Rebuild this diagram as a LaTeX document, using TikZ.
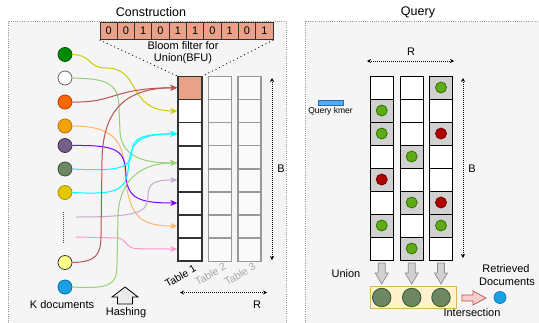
\documentclass[tikz,border=0pt]{standalone}
\usepackage{fontspec}
\setmainfont{Liberation Sans}
\usetikzlibrary{arrows.meta,calc}
\definecolor{panelbg}{HTML}{F5F5F5}
\definecolor{panelbd}{HTML}{9A9A9A}
\definecolor{salmon}{HTML}{EAA189}
\definecolor{cGreen}{HTML}{008A00}
\definecolor{cGreenB}{HTML}{005700}
\definecolor{cOrange}{HTML}{FA6800}
\definecolor{cOrangeB}{HTML}{C73500}
\definecolor{cAmber}{HTML}{F0A30A}
\definecolor{cAmberB}{HTML}{BD7000}
\definecolor{cPurple}{HTML}{76608A}
\definecolor{cPurpleB}{HTML}{432D57}
\definecolor{cOlive}{HTML}{6D8764}
\definecolor{cOliveB}{HTML}{3A5431}
\definecolor{cYellow}{HTML}{E3C800}
\definecolor{cYellowB}{HTML}{B09500}
\definecolor{cLYellow}{HTML}{FFFF88}
\definecolor{cLYellowB}{HTML}{36393D}
\definecolor{cBlue}{HTML}{1BA1E2}
\definecolor{cBlueB}{HTML}{006EAF}
\definecolor{eRed}{HTML}{B85450}
\definecolor{eYellow}{HTML}{CCCC00}
\definecolor{eGreen}{HTML}{97D077}
\definecolor{eOrange}{HTML}{FFB570}
\definecolor{ePurple}{HTML}{7F00FF}
\definecolor{eCyan}{HTML}{00FFFF}
\definecolor{eLav}{HTML}{C3ABD0}
\definecolor{ePink}{HTML}{FF99CC}
\definecolor{dGreen}{HTML}{60A917}
\definecolor{dGreenB}{HTML}{2D7600}
\definecolor{dRed}{HTML}{B20000}
\definecolor{dRedB}{HTML}{6F0000}
\definecolor{ubox}{HTML}{FFF2CC}
\definecolor{uboxB}{HTML}{D6B656}
\definecolor{iFill}{HTML}{F8CECC}
\definecolor{qk}{HTML}{5AA9F0}
\definecolor{qkB}{HTML}{1F6FB5}
\tikzset{
  panel/.style={fill=panelbg,draw=panelbd,line width=0.6pt,dash pattern=on 1pt off 1.2pt},
  bit/.style={draw=black!80,fill=salmon,line width=0.9pt,minimum width=17.3pt,minimum height=17pt,inner sep=0pt,font=\fontsize{11}{12}\selectfont},
  cellA/.style={draw=black!80,fill=white,line width=1.3pt,minimum width=24pt,minimum height=23.05pt,inner sep=0pt},
  cellB/.style={draw=black!40,fill=black!2,line width=1.2pt,minimum width=23pt,minimum height=23.05pt,inner sep=0pt},
  qcell/.style={draw=black,line width=1pt,minimum width=23.3pt,minimum height=23pt,inner sep=0pt},
  qw/.style={qcell,fill=white},
  qg/.style={qcell,fill=black!18},
  doc/.style={circle,line width=0.8pt,minimum size=14pt,inner sep=0pt},
  gdot/.style={circle,line width=0.8pt,minimum size=11pt,inner sep=0pt,fill=dGreen,draw=dGreenB},
  rdot/.style={circle,line width=0.8pt,minimum size=11pt,inner sep=0pt,fill=dRed,draw=dRedB},
  edge/.style={line width=1pt,-{Stealth[length=7pt,width=6pt,inset=2pt]}},
  dim/.style={line width=0.6pt,dash pattern=on 1pt off 1pt,{Stealth[length=4pt,width=4pt]}-{Stealth[length=4pt,width=4pt]}},
  lbl/.style={font=\fontsize{11}{13}\selectfont,inner sep=0pt},
  tlbl/.style={font=\fontsize{10.5}{12}\selectfont,inner sep=0pt,rotate=30},
  ttl/.style={font=\fontsize{12.5}{14}\selectfont,inner sep=0pt},
}
\begin{document}
\begin{tikzpicture}[x=1pt,y=-1pt]
\useasboundingbox (0,0) rectangle (539,322);
\begin{scope}
\clip (0,0) rectangle (539,322);
\draw[panel] (8,21) rectangle (286,340);
\draw[panel] (305,21) rectangle (560,340);
\end{scope}
\node[ttl] (tc) at (151,12) {Construction};
\node[ttl] (tq) at (418,12) {Query};
% bloom filter
\foreach \b [count=\i] in {0,0,1,0,1,1,0,1,0,1}
  \node[bit] (b\i) at ({100+17.3*(\i-0.5)},31) {\b};
\node[lbl] (bf1) at (183,46) {Bloom filter for};
\node[lbl] (bf2) at (183,59) {Union(BFU)};
% tables
\foreach \r in {1,...,8}{
  \node[cellB] (tb\r) at (220.3,{76.7+23.05*(\r-0.5)}) {};
  \node[cellB] (tc\r) at (249.5,{76.7+23.05*(\r-0.5)}) {};
}
\foreach \r in {2,...,8}
  \node[cellA] (ta\r) at (190,{76.7+23.05*(\r-0.5)}) {};
\node[cellA,fill=salmon] (ta1) at (190,{76.7+23.05*0.5}) {};
\draw[line width=0.8pt,dash pattern=on 1pt off 3pt] (b1.south west) -- (ta1.north west);
\draw[line width=0.8pt,dash pattern=on 1pt off 3pt] (b10.south east) -- (ta1.north east);
\coordinate (bt) at (272,78); \coordinate (bb) at (272,260);
\draw[dim] (bt) -- (bb);
\node[lbl] (bl) at (281,169) {B};
\coordinate (rl) at (180,292.5); \coordinate (rr) at (267,292.5);
\draw[dim] (rl) -- (rr);
\node[lbl] (rlab) at (257,304.5) {R};
\node[tlbl] (t1) at (180.5,276) {Table 1};
\node[tlbl,text=black!35] (t2) at (210.5,274) {Table 2};
\node[tlbl,text=black!35] (t3) at (240,274) {Table 3};
% documents
\node[doc,fill=cGreen,draw=cGreenB] (c1) at (65,54.5) {};
\node[doc,fill=white,draw=black!60] (c2) at (65,78) {};
\node[doc,fill=cOrange,draw=cOrangeB] (c3) at (65,102) {};
\node[doc,fill=cAmber,draw=cAmberB] (c4) at (65,126) {};
\node[doc,fill=cPurple,draw=cPurpleB] (c5) at (65,145.5) {};
\node[doc,fill=cOlive,draw=cOliveB] (c6) at (65,169) {};
\node[doc,fill=cYellow,draw=cYellowB] (c7) at (65,192.5) {};
\node[doc,fill=cLYellow,draw=cLYellowB] (c8) at (65,262.5) {};
\node[doc,fill=cBlue,draw=cBlueB] (c9) at (65,287) {};
\coordinate (dtop) at (63,212); \coordinate (dbot) at (63,244);
\draw[line width=0.6pt,dash pattern=on 1pt off 1pt,black!70] (dtop) -- (dbot);
\coordinate (lav) at (76,217);
\coordinate (pnk) at (76,237);
\node[lbl] (kd) at (62,305) {K documents};
\node[lbl] (hs) at (126,313) {Hashing};
\draw[line width=0.8pt,fill=black!8] (125,287) -- (138,297) -- (132.5,297) -- (132.5,304) -- (117.5,304) -- (117.5,297) -- (112,297) -- cycle;
% edges
\draw[edge,eYellow] (c1.east) .. controls (92,55) and (88,68) .. (106,68) .. controls (142,68) and (126,111) .. ($(ta2.west)+(0,-0.3)$);
\draw[edge,eGreen] (c2.east) .. controls (102,79) and (119,80) .. (119,108) -- (120,132) .. controls (122,160) and (150,163) .. ($(ta4.west)+(0,5.5)$);
\draw[edge,eRed] (c3.east) .. controls (115,103) and (112,88) .. ($(ta1.west)+(0,-0.5)$);
\draw[edge,eOrange] (c4.east) .. controls (110,126) and (123,138) .. (125,170) .. controls (128,217) and (140,226) .. ($(ta7.west)+(0,-0.5)$);
\draw[edge,ePurple] (c5.east) .. controls (118,145) and (125,150) .. (126,175) .. controls (127,199) and (140,203) .. ($(ta6.west)+(0,-0.5)$);
\draw[edge,eCyan] (c6.east) .. controls (126,172) and (131,166) .. (132,150) .. controls (133,137) and (145,134) .. ($(ta3.west)+(0,-0.5)$);
\draw[edge,eCyan] (c7.east) .. controls (121,195) and (127,190) .. (129,162) .. controls (131,139) and (145,134) .. ($(ta3.west)+(0,-0.5)$);
\draw[edge,eLav] (lav) .. controls (140,217) and (148,212) .. (148,196) .. controls (148,183) and (155,180) .. ($(ta5.west)+(0,-0.5)$);
\draw[edge,ePink] (pnk) -- (118,238) .. controls (126,238.5) and (126,248.5) .. (137,248.7) -- ($(ta8.west)+(0,-0.5)$);
\draw[edge,eRed] (c8.east) .. controls (96,262) and (101,255) .. (101,235) -- (102,160) .. controls (103,110) and (125,88) .. ($(ta1.west)+(0,-0.5)$);
\draw[edge,eGreen] (c9.east) .. controls (110,289) and (117,285) .. (117,265) -- (118,215) .. controls (120,176) and (145,163) .. ($(ta4.west)+(0,5.5)$);
% query panel
\coordinate (qrl) at (367,61); \coordinate (qrr) at (454,61);
\draw[dim] (qrl) -- (qrr);
\node[lbl] (qR) at (411,52) {R};
\coordinate (qbt) at (463,78); \coordinate (qbb) at (463,258);
\draw[dim] (qbt) -- (qbb);
\node[lbl] (qB) at (472,169) {B};
\node[draw=qkB,fill=qk,line width=0.6pt,minimum width=25pt,minimum height=5pt,inner sep=0pt] (qkr) at (330.5,102.5) {};
\node[font=\fontsize{8.5}{10}\selectfont,inner sep=0pt] (qkl) at (330.5,111) {Query kmer};
\foreach \s [count=\r] in {qw,qg,qg,qw,qg,qw,qg,qw}
  \node[\s] (qa\r) at (381.7,{76+23*(\r-0.5)}) {};
\foreach \s [count=\r] in {qw,qw,qw,qg,qw,qg,qw,qg}
  \node[\s] (qb\r) at (411.7,{76+23*(\r-0.5)}) {};
\foreach \s [count=\r] in {qg,qw,qg,qw,qw,qg,qg,qw}
  \node[\s] (qc\r) at (441,{76+23*(\r-0.5)}) {};
\foreach \n in {qa2,qa3,qa7,qb4,qb6,qb8,qc1,qc7}
  \node[gdot] (d\n) at (\n) {};
\foreach \n in {qa5,qc3,qc6}
  \node[rdot] (d\n) at (\n) {};
\foreach \cx in {381.7,411.7,441}
  \draw[line width=0.7pt,draw=black!45,fill=black!18] (\cx-3.5,263) -- (\cx+3.5,263) -- (\cx+3.5,273) -- (\cx+6.5,273) -- (\cx,284) -- (\cx-6.5,273) -- (\cx-3.5,273) -- cycle;
\node[lbl] (un) at (346,274) {Union};
\node[draw=uboxB,fill=ubox,line width=0.8pt,minimum width=86pt,minimum height=22pt,inner sep=0pt] (ub) at (413,297) {};
\foreach \cx [count=\i] in {381.7,411.7,441}
  \node[circle,fill=cOlive,draw=cOliveB,line width=0.8pt,minimum size=18.5pt,inner sep=0pt] (u\i) at (\cx,297.5) {};
\draw[line width=0.7pt,draw=eRed,fill=iFill] (462,295) -- (473,295) -- (473,291) -- (486,298) -- (473,305) -- (473,301) -- (462,301) -- cycle;
\node[circle,fill=cBlue,draw=cBlueB,line width=0.6pt,minimum size=12pt,inner sep=0pt] (rd) at (500,297.5) {};
\node[lbl] (rt1) at (506,269) {Retrieved};
\node[lbl] (rt2) at (507,281.5) {Documents};
\node[lbl] (is) at (472,313) {Intersection};
\end{tikzpicture}
\end{document}
